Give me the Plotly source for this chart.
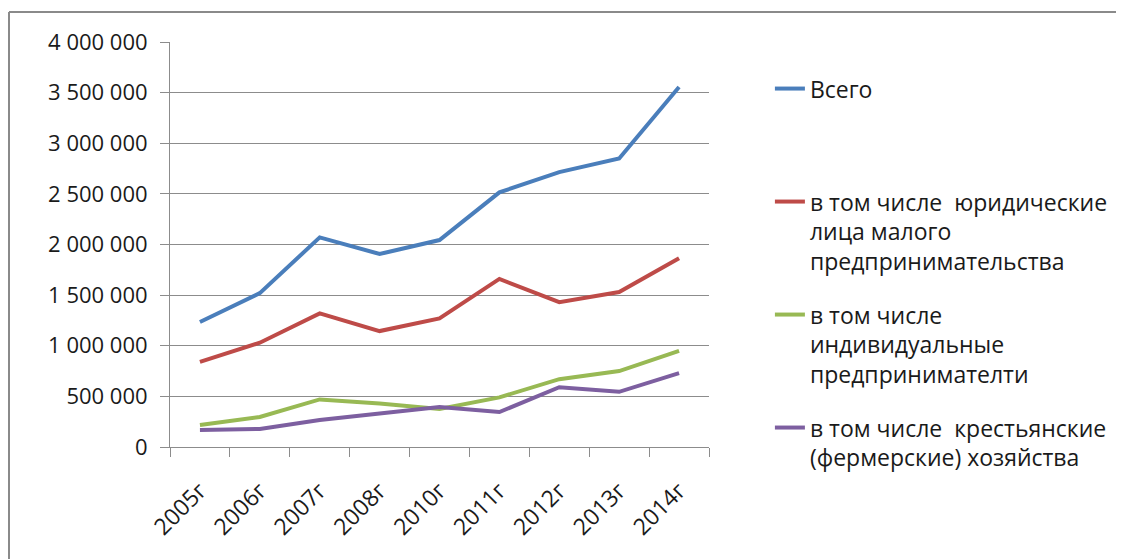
import plotly.graph_objects as go

years = ["2005г", "2006г", "2007г", "2008г", "2010г", "2011г", "2012г", "2013г", "2014г"]
total = [1235000, 1520000, 2070000, 1906000, 2044000, 2515000, 2715000, 2850000, 3555000]
legal = [840000, 1030000, 1320000, 1145000, 1270000, 1660000, 1430000, 1530000, 1865000]
individual = [217000, 296000, 470000, 430000, 375000, 490000, 670000, 750000, 950000]
farms = [168000, 178000, 267000, 326000, 395000, 345000, 590000, 545000, 730000]

names = [
    "Всего",
    "в том числе  юридические<br>лица малого<br>предпринимательства",
    "в том числе<br>индивидуальные<br>предпринимателти",
    "в том числе  крестьянские<br>(фермерские) хозяйства",
]
colors = ["#4A7EBB", "#BE4B48", "#98B954", "#7D5FA0"]
series = [total, legal, individual, farms]
legend_ids = ["legend", "legend2", "legend3", "legend4"]
legend_y = [0.938, 0.659, 0.380, 0.101]

FONT = "Open Sans"
fig = go.Figure()
for nm, col, vals, lid in zip(names, colors, series, legend_ids):
    fig.add_trace(go.Scatter(
        x=years, y=vals, name=nm, mode="lines",
        line=dict(color=col, width=4), legend=lid,
    ))

layout_legends = {}
for lid, ly in zip(legend_ids, legend_y):
    layout_legends[lid] = dict(
        x=1.113, y=ly, xanchor="left", yanchor="top", valign="top",
        font=dict(family=FONT, size=23, color="#1a1a1a"),
        bgcolor="rgba(0,0,0,0)", borderwidth=0,
    )

GRID = "#8c8c8c"
fig.update_layout(
    width=1124, height=559,
    margin=dict(l=162, r=423, t=34, b=120),
    paper_bgcolor="white", plot_bgcolor="white",
    separators=", ",
    showlegend=True,
    font=dict(family=FONT, size=22, color="#1a1a1a"),
    xaxis=dict(
        type="category", range=[-0.5, 8.5], tickangle=-45,
        showline=True, linecolor=GRID, linewidth=1,
        ticks="outside", tickson="boundaries", ticklen=9, tickcolor=GRID,
        showgrid=False, tickfont=dict(family=FONT, size=23, color="#1a1a1a"),
        ticklabelstandoff=20,
        fixedrange=True,
    ),
    yaxis=dict(
        range=[0, 4000000], dtick=500000, tickformat=",d",
        showline=True, linecolor=GRID, linewidth=1,
        ticks="outside", ticklen=9, tickcolor=GRID,
        showgrid=True, gridcolor=GRID, gridwidth=1,
        zeroline=False,
        tickfont=dict(family=FONT, size=22, color="#1a1a1a"),
        ticklabelstandoff=8,
        fixedrange=True,
    ),
    shapes=[
        dict(type="line", xref="paper", yref="paper", x0=-0.2987, x1=1.9, y0=1.074, y1=1.074,
             line=dict(color="#8a8a8a", width=2)),
        dict(type="line", xref="paper", yref="paper", x0=-0.2987, x1=-0.2987, y0=1.074, y1=-0.4,
             line=dict(color="#8a8a8a", width=2)),
    ],
    **layout_legends,
)

fig.write_html("out.html")
